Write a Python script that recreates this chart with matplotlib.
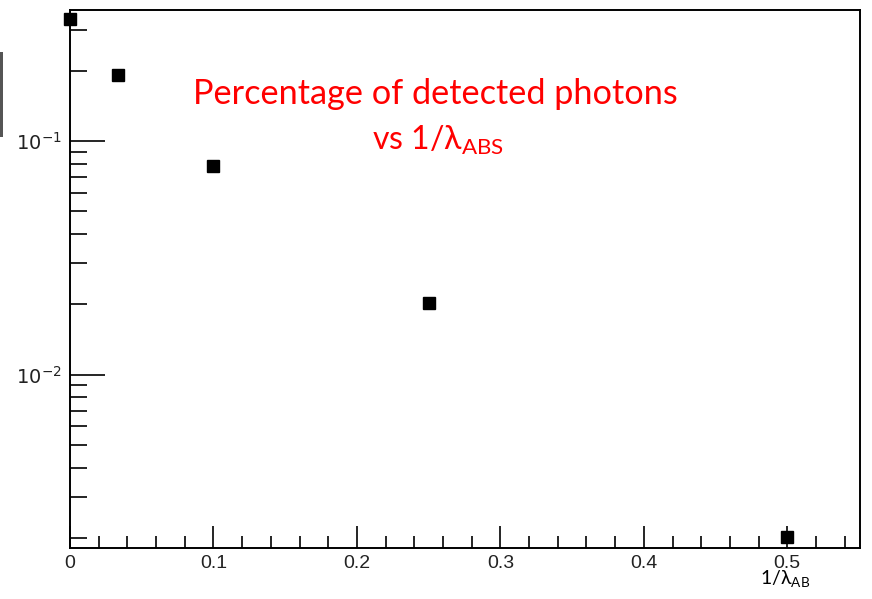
import matplotlib
matplotlib.use("Agg")
import matplotlib.pyplot as plt
from matplotlib.ticker import FixedLocator, NullFormatter, MultipleLocator
from matplotlib.patches import Rectangle

inv_lambda = [0.0, 0.0333, 0.1, 0.25, 0.5]
detected = [0.332, 0.192, 0.078, 0.0203, 0.00201]

x_major = [0, 0.1, 0.2, 0.3, 0.4, 0.5]
x_labels = ["0", "0.1", "0.2", "0.3", "0.4", "0.5"]
y_major = [0.01, 0.1]
y_labels = [r"$10^{-2}$", r"$10^{-1}$"]

W, H = 872, 599
fig = plt.figure(figsize=(W / 100, H / 100), dpi=100)
ax = fig.add_axes([70 / W, 1 - 548 / H, 790 / W, 538 / H])

ax.plot(inv_lambda, detected, linestyle="none", marker="s", markersize=8,
        color="black", clip_on=False, zorder=5)

ax.set_yscale("log")
ax.set_xlim(0, 0.5507)
ax.set_ylim(0.00181, 0.3636)

ax.xaxis.set_major_locator(FixedLocator(x_major))
ax.set_xticklabels(x_labels)
ax.xaxis.set_minor_locator(MultipleLocator(0.02))

ax.yaxis.set_major_locator(FixedLocator(y_major))
ax.set_yticklabels(y_labels)
minor_y = [k * 10.0 ** e for e in (-3, -2, -1) for k in range(2, 10)]
ax.yaxis.set_minor_locator(FixedLocator(minor_y))
ax.yaxis.set_minor_formatter(NullFormatter())

ax.tick_params(axis="x", which="major", direction="in", length=16, width=1.2,
               labelsize=14, pad=5, top=False)
ax.tick_params(axis="x", which="minor", direction="in", length=9, width=1.2, top=False)
ax.tick_params(axis="y", which="major", direction="in", length=25, width=1.2,
               labelsize=14, pad=6, right=False)
ax.tick_params(axis="y", which="minor", direction="in", length=12, width=1.2, right=False)
for lab in ax.get_xticklabels() + ax.get_yticklabels():
    lab.set_fontfamily(["Liberation Sans", "DejaVu Sans"])
    lab.set_color("#222222")

for s in ax.spines.values():
    s.set_linewidth(1.4)

fig.text(435 / W, 1 - 94 / H, "Percentage of detected photons", color="red",
         fontsize=24.7, family=["Lato", "DejaVu Sans"], ha="center", va="center")
fig.text(438 / W, 1 - 140 / H, r"vs 1/$\mathregular{\lambda}_{\mathregular{ABS}}$", color="red",
         fontsize=23, family=["Lato", "DejaVu Sans"], ha="center", va="center")

fig.text(785 / W, 1 - 579 / H, r"1/$\mathregular{\lambda}_{\mathregular{AB}}$", color="black",
         fontsize=14, family=["Lato", "DejaVu Sans"], ha="center", va="center")

# gray bracket artifact on the left edge
fig.patches.append(Rectangle((0, 1 - 137 / H), 3 / W, 85 / H, transform=fig.transFigure,
                             facecolor="#555555", edgecolor="none"))

fig.savefig("out.png", dpi=100)
